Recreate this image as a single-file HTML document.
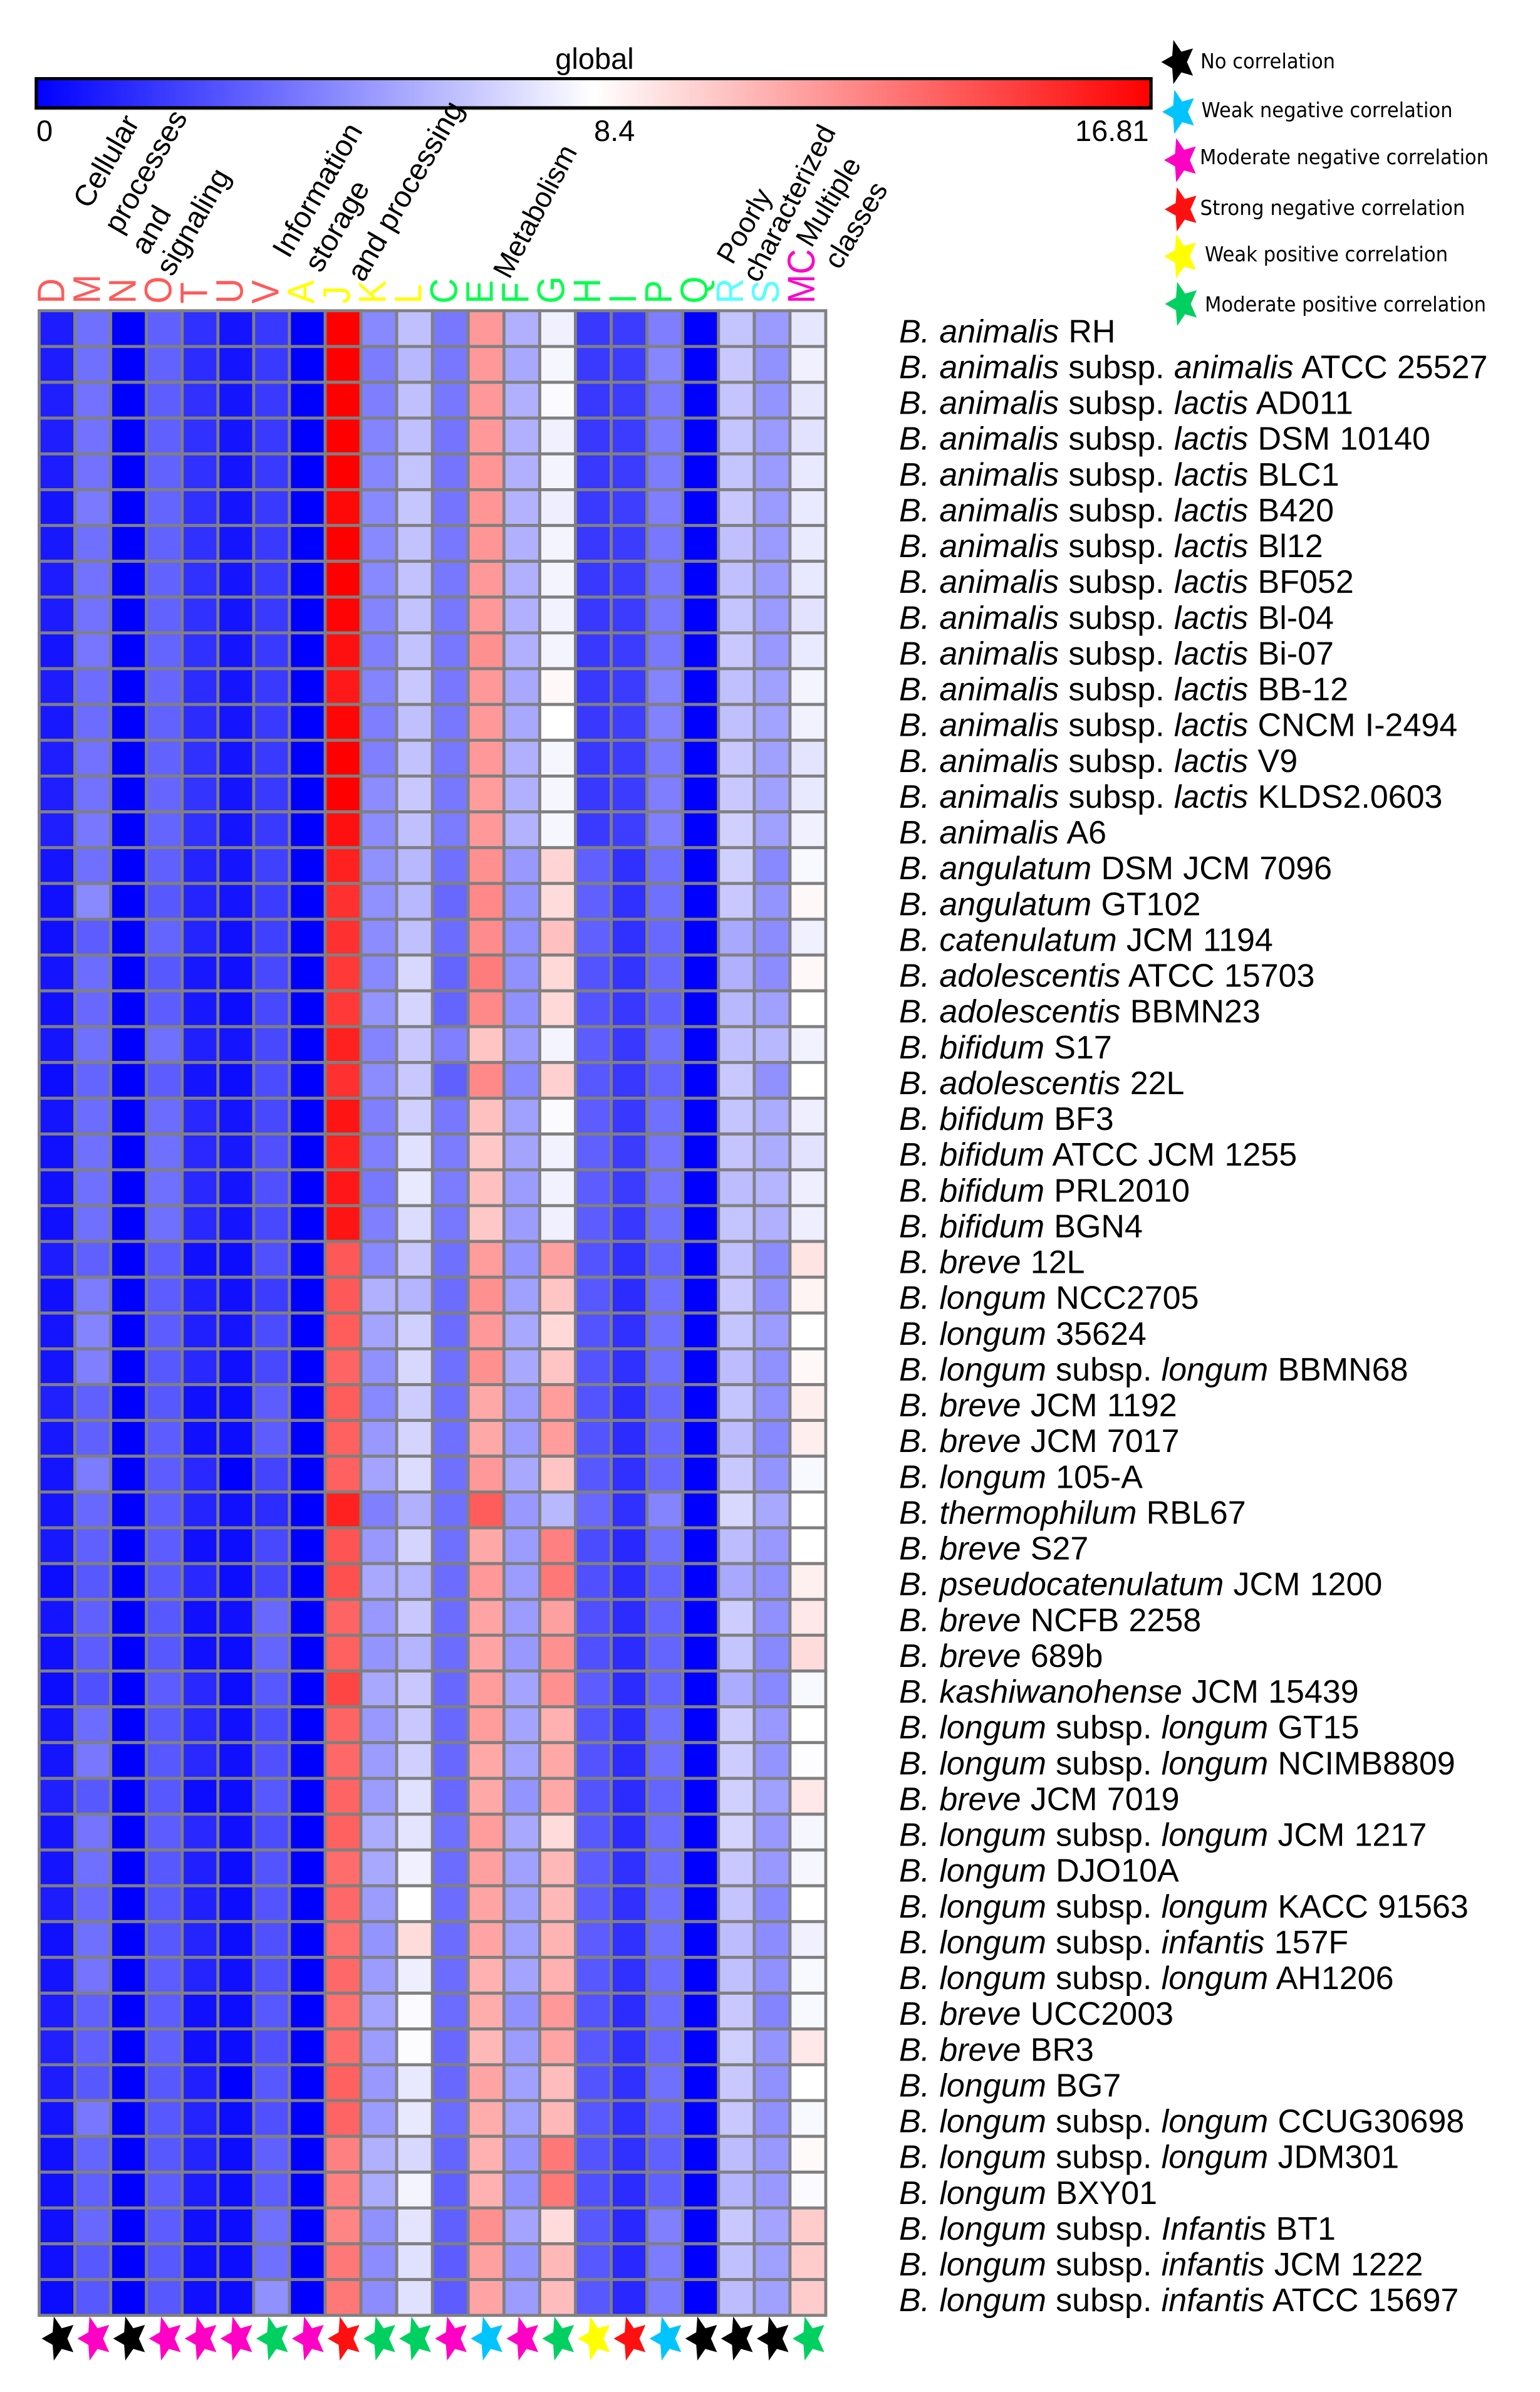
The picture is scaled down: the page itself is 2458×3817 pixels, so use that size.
<!DOCTYPE html>
<html lang="en">
<head>
<meta charset="utf-8">
<title>Bifidobacterium COG heatmap</title>
<style>
html,body{margin:0;padding:0;background:#fff;}
svg{display:block;font-family:"Liberation Sans",Arial,sans-serif;}
.hdr{font-size:45.5px;fill:#000;}
.hdr.big{font-size:47.5px;}
.leg{font-family:"DejaVu Sans",sans-serif;font-size:33px;fill:#000;}
.cb{font-size:47px;fill:#000;}
.strain{font-size:52px;fill:#000;word-spacing:0.8px;}
</style>
</head>
<body>
<svg id="chart" xmlns="http://www.w3.org/2000/svg" width="2458" height="3817" viewBox="0 0 2458 3817">
  <defs>
    <linearGradient id="cbGrad" x1="0" x2="1" y1="0" y2="0">
      <stop offset="0" stop-color="#0000ff"/>
      <stop offset="0.5" stop-color="#ffffff"/>
      <stop offset="1" stop-color="#ff0000"/>
    </linearGradient>
    <polygon id="star" points="-28,0 -10.5,-10 -8.65,-35.2 4,-16.5 22.65,-21.75 13,0 22.65,21.75 4,16.5 -8.65,35.2 -10.5,10"/>
  </defs>
  <rect width="2458" height="3817" fill="#fff"/>

  <text class="cb" x="949" y="110" text-anchor="middle">global</text>
  <rect x="55" y="123" width="1785" height="52.5" fill="#888888"/>
  <rect x="58" y="125.5" width="1779" height="46.5" fill="url(#cbGrad)" stroke="#000" stroke-width="5"/>
  <text class="cb" x="58" y="225">0</text>
  <text class="cb" x="948" y="225">8.4</text>
  <text class="cb" x="1716" y="225">16.81</text>

  <g>
    <text class="hdr big" transform="translate(143,335) rotate(-60)">Cellular</text>
    <text class="hdr big" transform="translate(192,375) rotate(-60)">processes</text>
    <text class="hdr big" transform="translate(235,409) rotate(-60)">and</text>
    <text class="hdr big" transform="translate(275,443) rotate(-60)">signaling</text>
    <text class="hdr big" transform="translate(461,414) rotate(-60)">Information</text>
    <text class="hdr big" transform="translate(512,437) rotate(-60)">storage</text>
    <text class="hdr big" transform="translate(580,452) rotate(-60)">and processing</text>
    <text class="hdr" transform="translate(813,447) rotate(-62)">Metabolism</text>
    <text class="hdr" transform="translate(1169,424) rotate(-60)">Poorly</text>
    <text class="hdr" transform="translate(1211,453) rotate(-63)">characterized</text>
    <text class="hdr" transform="translate(1295,397) rotate(-59)">Multiple</text>
    <text class="hdr" transform="translate(1340,432) rotate(-59)">classes</text>
  </g>

  <g id="colLabels"></g>
  <g id="cells"></g>
  <g id="rowLabels"></g>
  <g id="stars"></g>

  <g>
    <use href="#star" x="1881.5" y="99" fill="#000000"/>
    <text class="leg" x="1916" y="109" textLength="215" lengthAdjust="spacingAndGlyphs">No correlation</text>
    <use href="#star" x="1883" y="178.5" fill="#00c4ff"/>
    <text class="leg" x="1917.5" y="187" textLength="401" lengthAdjust="spacingAndGlyphs">Weak negative correlation</text>
    <use href="#star" x="1886" y="255.5" fill="#ff00c4"/>
    <text class="leg" x="1915" y="262" textLength="461" lengthAdjust="spacingAndGlyphs">Moderate negative correlation</text>
    <use href="#star" x="1887" y="334" fill="#ff1010"/>
    <text class="leg" x="1915.5" y="343" textLength="423" lengthAdjust="spacingAndGlyphs">Strong negative correlation</text>
    <use href="#star" x="1886" y="409" fill="#ffff00"/>
    <text class="leg" x="1923" y="417" textLength="388" lengthAdjust="spacingAndGlyphs">Weak positive correlation</text>
    <use href="#star" x="1887.5" y="485" fill="#00d060"/>
    <text class="leg" x="1923" y="497" textLength="449" lengthAdjust="spacingAndGlyphs">Moderate positive correlation</text>
  </g>
</svg>

<script>
const cogLetters = ["D","M","N","O","T","U","V","A","J","K","L","C","E","F","G","H","I","P","Q","R","S","MC"];
const cogGroups = ["cell","cell","cell","cell","cell","cell","cell","info","info","info","info","meta","meta","meta","meta","meta","meta","meta","meta","poor","poor","multi"];
const groupColors = {cell:"#ff5a5a",info:"#ffff00",meta:"#00ff4c",poor:"#55ffff",multi:"#ff00c8"};
const correlationByColumn = ["none","modNeg","none","modNeg","modNeg","modNeg","modPos","modNeg","strongNeg","modPos","modPos","modNeg","weakNeg","modNeg","modPos","weakPos","strongNeg","weakNeg","none","none","none","modPos"];
const correlationColors = {none:"#000000",weakNeg:"#00c4ff",modNeg:"#ff00c4",strongNeg:"#ff1010",weakPos:"#ffff00",modPos:"#00d060"};
const scaleMin = 0, scaleMid = 8.405, scaleMax = 16.81;

/* *text* marks the italic parts of a strain name */
const strains = [
"*B. animalis* RH",
"*B. animalis* subsp. *animalis* ATCC 25527",
"*B. animalis* subsp. *lactis* AD011",
"*B. animalis* subsp. *lactis* DSM 10140",
"*B. animalis* subsp. *lactis* BLC1",
"*B. animalis* subsp. *lactis* B420",
"*B. animalis* subsp. *lactis* Bl12",
"*B. animalis* subsp. *lactis* BF052",
"*B. animalis* subsp. *lactis* Bl-04",
"*B. animalis* subsp. *lactis* Bi-07",
"*B. animalis* subsp. *lactis* BB-12",
"*B. animalis* subsp. *lactis* CNCM I-2494",
"*B. animalis* subsp. *lactis* V9",
"*B. animalis* subsp. *lactis* KLDS2.0603",
"*B. animalis* A6",
"*B. angulatum* DSM JCM 7096",
"*B. angulatum* GT102",
"*B. catenulatum* JCM 1194",
"*B. adolescentis* ATCC 15703",
"*B. adolescentis* BBMN23",
"*B. bifidum* S17",
"*B. adolescentis* 22L",
"*B. bifidum* BF3",
"*B. bifidum* ATCC JCM 1255",
"*B. bifidum* PRL2010",
"*B. bifidum* BGN4",
"*B. breve* 12L",
"*B. longum* NCC2705",
"*B. longum* 35624",
"*B. longum* subsp. *longum* BBMN68",
"*B. breve* JCM 1192",
"*B. breve* JCM 7017",
"*B. longum* 105-A",
"*B. thermophilum* RBL67",
"*B. breve* S27",
"*B. pseudocatenulatum* JCM 1200",
"*B. breve* NCFB 2258",
"*B. breve* 689b",
"*B. kashiwanohense* JCM 15439",
"*B. longum* subsp. *longum* GT15",
"*B. longum* subsp. *longum* NCIMB8809",
"*B. breve* JCM 7019",
"*B. longum* subsp. *longum* JCM 1217",
"*B. longum* DJO10A",
"*B. longum* subsp. *longum* KACC 91563",
"*B. longum* subsp. *infantis* 157F",
"*B. longum* subsp. *longum* AH1206",
"*B. breve* UCC2003",
"*B. breve* BR3",
"*B. longum* BG7",
"*B. longum* subsp. *longum* CCUG30698",
"*B. longum* subsp. *longum* JDM301",
"*B. longum* BXY01",
"*B. longum* subsp. *Infantis* BT1",
"*B. longum* subsp. *infantis* JCM 1222",
"*B. longum* subsp. *infantis* ATCC 15697"
];

const abundance = [
[.92,3.69,0,3.16,1.58,.66,1.85,0,16.81,4.48,6.33,3.96,11.77,5.8,7.91,1.85,1.98,4.15,0,6.46,5.08,7.58],
[.92,3.69,0,3.23,1.45,.66,1.91,0,16.81,4.09,6.07,3.96,11.77,5.54,8.11,1.91,1.98,4.42,0,6.59,4.81,7.91],
[.99,3.76,0,3.1,1.58,.66,1.91,0,16.81,4.15,6.33,3.96,11.77,5.8,8.27,1.85,1.98,4.02,0,6.46,4.88,7.58],
[.99,3.76,0,3.16,1.58,.66,1.91,0,16.81,4.35,6.33,3.82,11.77,5.8,7.91,1.85,1.98,4.09,0,6.46,5.08,7.45],
[.92,3.76,0,3.23,1.58,.66,1.91,0,16.81,4.42,6.46,3.82,11.9,5.8,8.04,1.85,1.98,4.09,0,6.46,5.08,7.65],
[.66,4.02,0,3.3,1.58,.66,1.91,0,16.55,4.48,6.53,3.82,11.9,5.87,7.84,1.91,2.04,4.15,0,6.59,5.08,7.71],
[.79,3.69,0,3.23,1.58,.66,1.91,0,16.81,4.48,6.39,3.96,11.9,5.8,8.04,1.85,1.98,3.96,0,6.33,5.08,7.71],
[.92,3.76,0,3.23,1.58,.66,1.91,0,16.81,4.48,6.39,3.96,11.77,5.8,8.04,1.85,1.98,3.96,0,6.33,5.14,7.65],
[.92,3.76,0,3.23,1.58,.66,1.91,0,16.68,4.35,6.39,3.96,11.77,5.8,7.97,1.85,1.98,3.96,0,6.46,5.08,7.45],
[.66,3.89,0,3.3,1.58,.66,1.91,0,16.28,4.22,6.39,3.96,12.06,5.8,8.04,1.85,1.98,3.96,0,6.59,5.01,7.71],
[.92,3.56,0,3.36,1.45,.66,1.91,0,16.02,4.35,6.59,3.96,11.77,5.54,8.64,1.85,1.98,4.35,0,6.33,5.27,8.04],
[.79,3.56,0,3.23,1.45,.66,1.91,0,16.61,4.15,6.33,3.96,11.77,5.54,8.4,1.85,2.04,4.28,0,6.33,5.34,7.97],
[.99,3.76,0,3.23,1.58,.66,1.91,0,16.81,4.22,6.39,3.96,11.77,5.8,8.11,1.85,1.98,4.02,0,6.59,5.27,7.51],
[.99,3.76,0,3.36,1.71,.66,1.91,0,16.81,4.61,6.59,3.96,11.67,5.8,8.11,1.85,1.98,4.15,0,6.59,5.27,7.65],
[.99,3.96,0,3.3,1.58,.66,1.91,0,16.28,4.61,6.33,4.09,11.77,5.87,8.11,1.91,2.04,4.22,0,6.86,5.27,7.91],
[.66,3.69,0,3.16,1.19,.66,2.11,0,15.76,4.75,6.07,3.69,12.06,5.01,9.82,3.16,1.58,3.69,0,6.86,4.48,8.17],
[.53,4.55,0,2.9,1.19,.66,1.98,0,15.23,4.75,6.07,3.43,12.33,4.88,9.56,3.16,1.58,3.69,0,6.59,4.88,8.64],
[.53,3.03,0,3.3,1.19,.53,2.11,0,15.23,4.61,6.33,3.56,12.2,4.75,10.48,3.16,1.58,3.43,0,5.54,4.61,7.91],
[.66,3.56,0,2.9,.79,.53,2.37,0,14.96,4.48,7.12,3.3,12.72,4.75,9.69,2.77,1.71,3.43,0,5.8,4.61,8.64],
[.53,3.43,0,3.03,.79,.4,2.37,0,14.96,4.88,6.99,3.3,12.33,4.75,9.69,2.77,1.85,3.16,0,6.07,5.27,8.4],
[.66,3.69,0,3.69,1.05,.66,2.37,0,15.76,4.35,6.59,4.22,10.35,5.14,8.04,3.03,1.85,3.69,0,6.33,6.07,7.97],
[.4,3.3,0,3.03,.66,.4,2.5,0,15.23,4.61,6.59,3.16,12.33,4.48,9.95,2.9,1.85,3.3,0,6.59,4.75,8.4],
[.66,3.56,0,3.56,1.32,.66,2.37,0,16.15,4.22,6.86,3.96,10.48,5.27,8.24,3.03,1.85,3.69,0,6.46,5.67,7.84],
[.53,3.69,0,3.69,1.32,.79,2.64,0,15.76,4.22,7.38,4.09,10.22,5.41,7.97,3.16,1.98,3.82,0,6.46,5.67,7.45],
[.53,3.69,0,3.69,1.32,.66,2.64,0,16.08,3.96,7.65,4.09,10.48,5.14,7.97,3.03,1.98,3.82,0,6.2,5.93,7.84],
[.53,3.69,0,3.69,1.32,.66,2.37,0,16.15,4.22,7.25,3.96,10.22,5.14,7.91,3.03,1.85,3.69,0,6.46,5.8,7.84],
[.92,3.16,0,3.03,.53,.4,2.64,0,13.91,4.48,6.59,3.69,11.67,4.88,11.54,2.77,1.58,3.3,0,6.33,4.61,9.3],
[.53,4.09,0,3.03,1.05,.53,1.98,0,13.91,5.8,5.93,3.56,12.06,5.27,10.35,2.9,1.45,3.69,0,6.59,4.75,8.77],
[.66,4.35,0,3.03,1.05,.66,2.5,0,13.78,5.41,6.86,3.56,11.8,5.54,9.69,2.77,1.58,3.69,0,6.46,5.14,8.4],
[.66,4.22,0,2.9,1.32,.53,2.37,0,13.51,4.75,7.12,3.69,12.06,5.54,10.35,2.77,1.58,3.69,0,6.2,4.75,8.64],
[1.05,3.16,0,2.9,.53,.4,3.03,0,13.78,4.48,6.72,3.69,11.27,5.14,11.67,2.77,1.45,3.43,0,6.46,4.75,8.97],
[.79,3.16,0,3.03,.53,.4,3.03,0,13.65,5.01,6.99,3.69,11.27,5.14,11.67,2.77,1.45,3.43,0,6.2,4.48,8.97],
[.66,4.09,0,3.03,1.32,0,2.24,0,13.65,5.41,7.25,3.69,11.8,5.54,10.35,2.9,1.58,3.43,0,6.59,4.88,8.17],
[.66,3.43,0,3.03,1.19,.53,1.45,0,15.76,4.22,5.8,3.69,13.78,5.01,6.07,3.43,1.58,4.35,0,7.12,5.54,8.4],
[.79,3.16,0,3.03,.53,.4,2.37,0,14.04,5.01,6.99,3.69,11.27,5.14,12.59,2.5,1.32,3.69,0,6.2,5.01,8.4],
[.4,2.9,0,2.9,1.32,.4,2.24,0,14.17,5.54,5.93,3.56,11.8,5.14,12.85,2.64,1.45,3.3,0,5.54,4.75,8.9],
[.66,3.16,0,2.9,.53,.53,3.43,0,13.51,5.01,6.59,3.56,11.4,5.14,11.54,2.64,1.45,3.3,0,6.72,4.75,9.16],
[.53,3.03,0,2.9,.53,.4,3.3,0,13.65,4.88,5.93,3.56,11.4,5.01,12.06,2.64,1.45,3.3,0,6.46,4.48,9.56],
[.4,2.64,0,3.03,1.32,.4,2.9,0,14.57,5.54,6.59,3.43,11.67,5.41,12.06,3.03,1.45,3.3,0,5.67,4.48,8.17],
[.66,3.56,0,2.9,1.32,.53,2.5,0,13.51,5.01,6.59,3.43,11.67,5.41,11.01,2.77,1.45,3.69,0,6.72,5.01,8.4],
[.66,3.96,0,2.9,1.32,.53,2.64,0,13.38,5.14,6.86,3.43,11.27,5.41,11.27,2.77,1.45,3.69,0,6.72,4.88,8.33],
[1.05,2.9,0,2.9,.4,.4,2.9,0,13.51,5.14,7.38,3.43,11.27,4.88,11.27,2.77,1.45,3.3,0,6.86,5.27,9.16],
[.66,3.82,0,3.03,1.32,.53,2.5,0,13.65,5.67,7.51,3.69,11.67,5.54,9.56,2.9,1.45,3.56,0,6.99,5.01,8.11],
[.66,3.69,0,2.9,1.05,.4,2.77,0,13.25,5.54,7.91,3.56,11.54,5.27,10.74,3.03,1.58,3.56,0,6.59,5.01,8.11],
[.92,3.43,0,2.9,1.05,.4,2.77,0,13.38,5.14,8.4,3.56,11.4,5.27,10.74,3.03,1.58,3.69,0,6.46,4.48,8.4],
[.53,3.69,0,2.9,1.19,.4,2.64,0,13.12,4.88,9.56,3.56,11.4,5.27,10.88,3.03,1.58,3.69,0,6.2,4.61,7.91],
[.66,3.82,0,3.03,1.19,.53,2.64,0,13.38,5.14,7.84,3.56,11.01,5.41,11.01,2.9,1.58,3.56,0,6.33,4.75,8.17],
[.92,3.16,0,3.03,.53,.4,2.9,0,13.12,5.41,8.24,3.56,11.14,4.75,11.8,2.77,1.45,3.56,0,6.59,4.35,8.17],
[1.05,3.16,0,3.16,.53,.4,2.64,0,13.25,5.14,8.31,3.43,10.74,5.14,11.4,2.9,1.58,3.43,0,6.86,4.88,9.16],
[.92,2.9,0,2.9,1.05,0,2.9,0,13.65,5.01,7.65,3.43,11.4,5.27,10.61,2.77,1.58,3.69,0,6.59,4.75,8.4],
[.66,3.96,0,2.9,1.19,.4,2.64,0,13.51,5.14,7.65,3.56,11.14,5.27,10.74,2.9,1.58,3.43,0,6.59,4.75,8.17],
[.53,3.3,0,2.9,1.19,.4,3.16,0,12.59,5.8,7.12,3.3,11.01,4.88,12.85,2.77,1.58,3.16,0,6.2,5.01,8.57],
[.53,3.16,0,3.03,.92,.4,3.03,0,12.59,5.67,8.04,3.16,11.01,4.75,12.85,2.64,1.45,3.16,0,5.93,5.01,8.27],
[.53,3.43,0,3.03,.53,.4,3.69,0,12.46,4.75,7.51,3.16,12.06,5.41,9.56,2.9,1.32,4.22,0,6.59,5.41,10.09],
[.53,2.9,0,2.9,.53,.4,3.69,0,12.85,4.61,7.38,3.03,11.54,4.88,10.74,2.9,1.32,4.09,0,6.33,5.27,10.09],
[.4,2.9,0,2.9,.53,.4,4.75,0,12.85,4.61,7.38,3.03,11.4,5.14,10.61,2.9,1.32,4.09,0,6.2,5.27,10.09]
];

const NS = "http://www.w3.org/2000/svg";
const gridLeft = 62.5, gridRight = 1318, gridTop = 495.8, gridBottom = 3694.7;
const colW = (gridRight - gridLeft) / cogLetters.length;
const rowH = (gridBottom - gridTop) / strains.length;
function xOf(col) { return gridLeft + col * colW; }
function yOf(row) { return gridTop + row * rowH; }
function colorOf(v) {
  if (v <= scaleMid) {
    const t = Math.round(255 * Math.max(0, (v - scaleMin) / (scaleMid - scaleMin)));
    return "rgb(" + t + "," + t + ",255)";
  }
  const t = Math.round(255 * Math.max(0, (scaleMax - v) / (scaleMax - scaleMid)));
  return "rgb(255," + t + "," + t + ")";
}

const cellsGroup = document.getElementById("cells");
abundance.forEach(function (rowValues, r) {
  rowValues.forEach(function (v, c) {
    const cell = document.createElementNS(NS, "rect");
    
    
    cell.setAttribute("x", xOf(c));
    cell.setAttribute("y", yOf(r));
    cell.setAttribute("width", colW);
    cell.setAttribute("height", rowH);
    cell.setAttribute("fill", colorOf(v));
    cell.setAttribute("stroke", "#808080");
    cell.setAttribute("stroke-width", "4.8");
    cellsGroup.appendChild(cell);
  });
});

const colGroup = document.getElementById("colLabels");
cogLetters.forEach(function (letter, c) {
  const t = document.createElementNS(NS, "text");
  
  
  const baseX = 102.3 + c * 57.03;
  t.setAttribute("transform", "translate(" + baseX + ",484.5) rotate(-90) scale(1,1.09)");
  t.setAttribute("font-size", "56");
  t.setAttribute("fill", groupColors[cogGroups[c]]);
  t.textContent = letter;
  colGroup.appendChild(t);
});

const rowGroup = document.getElementById("rowLabels");
strains.forEach(function (name, r) {
  const t = document.createElementNS(NS, "text");
  
  
  t.setAttribute("class", "strain");
  t.setAttribute("x", "1435");
  t.setAttribute("y", yOf(r) + rowH / 2 + 22);
  name.split("*").forEach(function (part, i) {
    if (!part) return;
    const s = document.createElementNS(NS, "tspan");
    
    
    if (i % 2 === 1) s.setAttribute("font-style", "italic");
    s.textContent = part;
    t.appendChild(s);
  });
  rowGroup.appendChild(t);
});

const starGroup = document.getElementById("stars");
correlationByColumn.forEach(function (kind, c) {
  const u = document.createElementNS(NS, "use");
  
  
  u.setAttribute("href", "#star");
  u.setAttribute("x", xOf(c) + colW / 2 + 3.5);
  u.setAttribute("y", gridBottom + 37);
  u.setAttribute("fill", correlationColors[kind]);
  starGroup.appendChild(u);
});
</script>
</body>
</html>
